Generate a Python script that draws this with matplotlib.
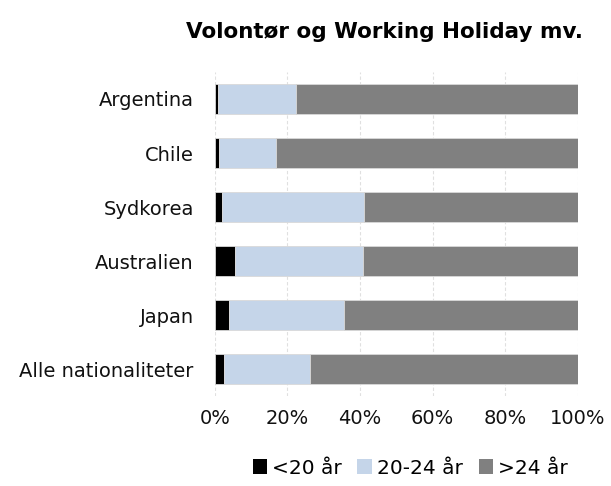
import matplotlib.pyplot as plt
import numpy as np
from matplotlib.patches import Patch
from matplotlib.ticker import PercentFormatter

countries = ["Argentina", "Chile", "Sydkorea", "Australien", "Japan", "Alle nationaliteter"]
under_20 = [0.8, 1.3, 2.0, 5.6, 3.9, 2.6]
age_20_24 = [21.7, 15.6, 39.2, 35.3, 31.7, 23.7]
over_24 = [100 - a - b for a, b in zip(under_20, age_20_24)]

series = [("<20 år", under_20, "#000000"),
          ("20-24 år", age_20_24, "#c5d5e9"),
          (">24 år", over_24, "#808080")]

plt.rcParams['font.family'] = ['DejaVu Sans']

fig = plt.figure(figsize=(6.11, 4.86), dpi=100)
ax = fig.add_axes([214.7 / 611, 90 / 486, 363.3 / 611, 324 / 486])

y = np.arange(len(countries))[::-1]
left = np.zeros(len(countries))
for label, values, color in series:
    ax.barh(y, values, left=left, height=0.55, color=color,
            edgecolor="#d9d9d9", linewidth=0.6, label=label, zorder=3)
    left += np.array(values)

ax.set_xlim(0, 100)
ax.set_ylim(-0.5, len(countries) - 0.5)
ax.set_xticks(np.arange(0, 101, 20))
ax.xaxis.set_major_formatter(PercentFormatter(decimals=0))
ax.set_yticks(y)
ax.set_yticklabels(countries)
ax.tick_params(axis="both", length=0, labelsize=14, colors="#111111")
ax.tick_params(axis="x", pad=9)
ax.tick_params(axis="y", pad=15)
ax.grid(axis="x", color="#e0e0e0", linestyle=(0, (3, 2)), linewidth=0.8, zorder=0)
for spine in ax.spines.values():
    spine.set_visible(False)

fig.text(385 / 611, 1 - 32 / 486, "Volontør og Working Holiday mv.", ha="center", va="center",
         fontsize=15.5, fontweight="bold")

handles = [Patch(facecolor=c, edgecolor="none") for _, _, c in series]
fig.legend(handles, [s[0] for s in series], loc="center", bbox_to_anchor=(410 / 611, 1 - 468 / 486),
           ncol=3, frameon=False, fontsize=14.5, handlelength=0.7, handleheight=0.7,
           handletextpad=0.25, columnspacing=0.8)

fig.savefig("out.png", dpi=100)
